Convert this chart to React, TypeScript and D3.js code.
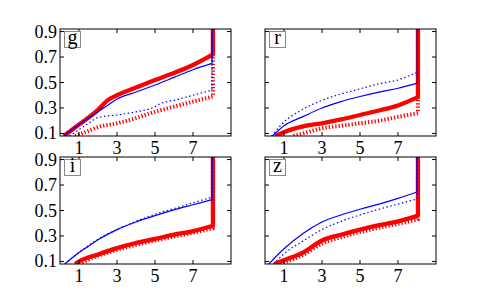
import React, { useEffect, useRef } from "react";
import * as d3 from "d3";

const width = 485;
const height = 295;

const xTicks = [1, 3, 5, 7];
const yTicks = [0.1, 0.3, 0.5, 0.7, 0.9];
const bands = ["g", "r", "i", "z"];

// [x, value] pairs; each curve shoots up at the end
const gRedSolid = [[0.2, 0.08], [1, 0.17], [2, 0.285], [2.5, 0.36], [3, 0.4], [4, 0.46], [5, 0.52], [6, 0.575], [7, 0.637], [8.05, 0.72], [8.05, 1.2]];
const gRedDot = [[0.8, 0.08], [1.5, 0.12], [2, 0.15], [3, 0.18], [4, 0.22], [5, 0.27], [6, 0.31], [7, 0.35], [8.05, 0.39], [8.05, 1.2]];
const gBlueSolid = [[0.2, 0.08], [1, 0.17], [2, 0.27], [2.5, 0.32], [3, 0.37], [4, 0.425], [5, 0.48], [6, 0.54], [7, 0.6], [8, 0.65], [8, 1.2]];
const gBlueDot = [[0.5, 0.08], [1, 0.13], [1.5, 0.18], [2, 0.225], [3, 0.245], [4, 0.27], [5, 0.31], [5.3, 0.335], [6, 0.36], [7, 0.4], [8, 0.44], [8, 1.2]];

const rRedSolid = [[0.55, 0.08], [1, 0.11], [2, 0.155], [3, 0.18], [4, 0.21], [5, 0.245], [6, 0.28], [7, 0.32], [8.05, 0.385], [8.05, 1.2]];
const rRedDot = [[1.5, 0.08], [2, 0.1], [3, 0.14], [4, 0.16], [5, 0.18], [6, 0.2], [7, 0.23], [8.05, 0.26], [8.05, 1.2]];
const rBlueSolid = [[0.4, 0.08], [1, 0.16], [2, 0.232], [3, 0.3], [4, 0.35], [5, 0.39], [6, 0.425], [7, 0.455], [8.02, 0.495], [8.02, 1.2]];
const rBlueDot = [[0.35, 0.08], [1, 0.19], [2, 0.29], [3, 0.36], [4, 0.41], [5, 0.45], [6, 0.49], [7, 0.52], [8, 0.58], [8, 1.2]];

const iRedSolid = [[0.8, 0.08], [1, 0.1], [2, 0.155], [3, 0.205], [4, 0.245], [5, 0.277], [6, 0.31], [7, 0.338], [8.05, 0.38], [8.05, 1.2]];
const iRedDot = [[1, 0.08], [2, 0.145], [3, 0.19], [4, 0.23], [5, 0.265], [6, 0.295], [7, 0.325], [8.05, 0.36], [8.05, 1.2]];
const iBlueSolid = [[0.25, 0.08], [1, 0.17], [1.5, 0.22], [2, 0.27], [3, 0.35], [4, 0.41], [5, 0.46], [6, 0.505], [7, 0.545], [8, 0.585], [8, 1.2]];
const iBlueDot = [[0.25, 0.08], [1, 0.17], [1.5, 0.225], [2, 0.275], [3, 0.35], [4, 0.415], [5, 0.47], [6, 0.515], [7, 0.56], [8, 0.605], [8, 1.2]];

const zRedSolid = [[0.5, 0.08], [1, 0.11], [2, 0.17], [3, 0.265], [4, 0.31], [5, 0.35], [6, 0.385], [7, 0.415], [8.05, 0.46], [8.05, 1.2]];
const zRedDot = [[0.8, 0.08], [1.5, 0.12], [2, 0.15], [3, 0.24], [4, 0.29], [5, 0.33], [6, 0.365], [7, 0.395], [8.05, 0.43], [8.05, 1.2]];
const zBlueSolid = [[0.2, 0.08], [1, 0.2], [2, 0.32], [3, 0.41], [4, 0.465], [5, 0.51], [6, 0.55], [7, 0.595], [8, 0.645], [8, 1.2]];
const zBlueDot = [[0.45, 0.08], [1, 0.16], [2, 0.26], [3, 0.35], [4, 0.415], [5, 0.465], [6, 0.51], [7, 0.55], [8, 0.59], [8, 1.2]];

const panelData = {
  g: [gRedSolid, gRedDot, gBlueSolid, gBlueDot],
  r: [rRedSolid, rRedDot, rBlueSolid, rBlueDot],
  i: [iRedSolid, iRedDot, iBlueSolid, iBlueDot],
  z: [zRedSolid, zRedDot, zBlueSolid, zBlueDot],
};

const styles = [
  { color: "#ff0000", w: 4.3, dash: null },
  { color: "#ff0000", w: 4, dash: "1.3,2" },
  { color: "#0000ff", w: 1.2, dash: null },
  { color: "#0000ff", w: 1.2, dash: "1.5,2.5" },
];

const cols = [60, 265];
const rows = [29, 157];
const pw = 171;
const ph = 107;
const font = "Liberation Serif, Tinos, DejaVu Serif, serif";

export default function App() {
  const ref = useRef<SVGSVGElement>(null);

  useEffect(() => {
    const svg = d3.select(ref.current);
    svg.selectAll("*").remove();
    svg.append("rect").attr("width", width).attr("height", height).attr("fill", "white");

    bands.forEach((band, k) => {
      const left = cols[k % 2];
      const top = rows[Math.floor(k / 2)];
      const x = d3.scaleLinear().domain([0, 9]).range([left, left + pw]);
      const y = d3.scaleLinear().domain([0.08, 0.92]).range([top + ph, top]);

      const clipId = "clip-" + band;
      svg.append("clipPath").attr("id", clipId)
        .append("rect").attr("x", left).attr("y", top).attr("width", pw).attr("height", ph);

      const g = svg.append("g");
      // smooth rise, then the straight climb at the right
      const curve = d3.line<number[]>().x((d) => x(d[0])).y((d) => y(d[1])).curve(d3.curveMonotoneX);

      const lines = g.append("g").attr("clip-path", `url(#${clipId})`);
      panelData[band].forEach((pts, j) => {
        const s = styles[j];
        const last = pts[pts.length - 1];
        const d = curve(pts.slice(0, -1)) + `L${x(last[0])},${y(last[1])}`;
        lines.append("path")
          .attr("d", d)
          .attr("fill", "none")
          .attr("stroke", s.color)
          .attr("stroke-width", s.w)
          .attr("stroke-dasharray", s.dash)
          .attr("stroke-linejoin", "round");
      });

      // inward ticks on all four sides
      xTicks.forEach((t) => {
        g.append("line").attr("x1", x(t)).attr("x2", x(t)).attr("y1", top + ph).attr("y2", top + ph - 4).attr("stroke", "black");
        g.append("line").attr("x1", x(t)).attr("x2", x(t)).attr("y1", top).attr("y2", top + 4).attr("stroke", "black");
        g.append("text").attr("x", x(t)).attr("y", top + ph + 18)
          .attr("text-anchor", "middle").style("font-family", font).style("font-size", "18px").text(t);
      });
      yTicks.forEach((t) => {
        g.append("line").attr("x1", left).attr("x2", left + 4).attr("y1", y(t)).attr("y2", y(t)).attr("stroke", "black");
        g.append("line").attr("x1", left + pw).attr("x2", left + pw - 4).attr("y1", y(t)).attr("y2", y(t)).attr("stroke", "black");
        if (k % 2 === 0) {
          g.append("text").attr("x", left - 3).attr("y", y(t) + 6)
            .attr("text-anchor", "end").style("font-family", font).style("font-size", "18px").text(d3.format(".1f")(t));
        }
      });

      g.append("rect").attr("x", left).attr("y", top).attr("width", pw).attr("height", ph)
        .attr("fill", "none").attr("stroke", "black").attr("stroke-width", 1);

      g.append("rect").attr("x", left + 4.5).attr("y", top + 2.5).attr("width", 16).attr("height", 16)
        .attr("fill", "white").attr("stroke", "#888").attr("stroke-width", 1);
      g.append("text").attr("x", left + 12.5).attr("y", top + 14.5)
        .attr("text-anchor", "middle").style("font-family", font).style("font-size", "20px").text(band);
    });
  }, []);

  return (
    <svg ref={ref} width={width} height={height}
      style={{ position: "absolute", left: 0, top: 0, display: "block" }} />
  );
}
